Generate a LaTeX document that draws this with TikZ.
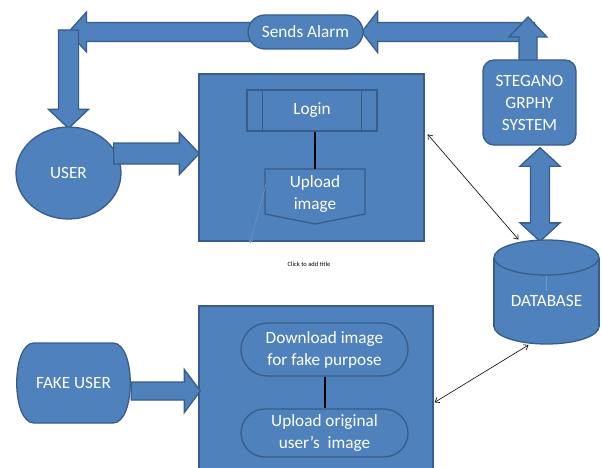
\documentclass[tikz,border=0pt]{standalone}
\usepackage{fontspec}
\setmainfont{Carlito}
\usetikzlibrary{calc,shapes.geometric,arrows.meta}
\pgfdeclarelayer{back}
\pgfsetlayers{back,main}

\definecolor{boxblue}{HTML}{4F81BD}
\definecolor{edgeblue}{HTML}{385D8A}
\definecolor{ghostblue}{HTML}{6E98CC}

\tikzset{
  shapefill/.style={fill=boxblue, draw=edgeblue, line width=1.3pt},
  panel/.style={shapefill, rectangle, inner sep=0pt},
  whitetext/.style={text=white, font=\fontsize{17.2}{22}\selectfont, align=center, inner sep=1pt},
  pill/.style={shapefill, whitetext, rectangle},
  bigarrow/.style={shapefill, line join=miter},
  joinline/.style={black, line width=2pt},
  thinlink/.style={black, line width=0.6pt,
    {Straight Barb[length=4pt,width=6pt]}-{Straight Barb[length=4pt,width=6pt]}},
}

% block arrow: from, to, shaft half width, head half width, head length
\newcommand\blockarrow[5]{%
  \coordinate (ba-h) at ($(#2)!#5!(#1)$);
  \draw[bigarrow] ($(#1)!#3!90:(#2)$) -- ($(ba-h)!#3!-90:(#1)$) -- ($(ba-h)!#4!-90:(#1)$)
    -- (#2) -- ($(ba-h)!#4!90:(#1)$) -- ($(ba-h)!#3!90:(#1)$) -- ($(#1)!#3!-90:(#2)$) -- cycle;}

% block arrow with a head at both ends
\newcommand\dblockarrow[5]{%
  \coordinate (ba-a) at ($(#1)!#5!(#2)$);
  \coordinate (ba-b) at ($(#2)!#5!(#1)$);
  \draw[bigarrow] (#1) -- ($(ba-a)!#4!90:(#2)$) -- ($(ba-a)!#3!90:(#2)$)
    -- ($(ba-b)!#3!-90:(#1)$) -- ($(ba-b)!#4!-90:(#1)$) -- (#2)
    -- ($(ba-b)!#4!90:(#1)$) -- ($(ba-b)!#3!90:(#1)$)
    -- ($(ba-a)!#3!-90:(#2)$) -- ($(ba-a)!#4!-90:(#2)$) -- cycle;}

\begin{document}
\begin{tikzpicture}[x=1pt,y=-1pt]
\useasboundingbox (0,0) rectangle (602,468);
\begin{pgfonlayer}{back}
  \fill[white] (0,0) rectangle (602,468);
\end{pgfonlayer}

% ---- main panels ----
\node[panel, minimum width=225pt, minimum height=167pt] (box1) at (311.5,157.5) {};
\node[panel, minimum width=234pt, minimum height=180pt] (box2) at (316,396) {};

% login (predefined process) and upload (off-page connector)
\node[pill, minimum width=130pt, minimum height=41pt] (login) at (312,110.5) {Login};
\draw[edgeblue, line width=1.3pt]
  ([xshift=16pt]login.north west) -- ([xshift=16pt]login.south west)
  ([xshift=-16pt]login.north east) -- ([xshift=-16pt]login.south east);
\draw[shapefill] (265,169) -- (365,169) -- (365,214) -- (315,224) -- (265,214) -- cycle;
\node[whitetext, minimum width=100pt, minimum height=45pt] (upload) at (315,194) {Upload\\image};
\draw[joinline] (login.south -| upload.north) -- ($(upload.north)+(0,-2.5)$);
\draw[ghostblue, line width=0.5pt, -{Straight Barb[length=3pt,width=4pt]}] (266,184) -- (250,243);

\node[font=\fontsize{6.5}{7}\selectfont, text=black] (title) at (309,264) {Click to add title};

% fake user actions
\node[pill, rounded corners=26.5pt, minimum width=167pt, minimum height=53pt] (down)
  at (324.5,349.5) {Download image\\for fake purpose};
\node[pill, rounded corners=24pt, minimum width=167pt, minimum height=48pt] (orig)
  at (324.5,433) {Upload original\\user’s\ \ image};
\draw[joinline] (down.south) -- (orig.north);

% ---- actors ----
\node[shapefill, ellipse, whitetext, minimum width=105pt, minimum height=92pt] (user)
  at (68.5,173) {USER};
\draw[shapefill] (34,343) -- (113,343) .. controls (136,343) and (136,423) .. (113,423)
  -- (34,423) .. controls (11,423) and (11,343) .. (34,343) -- cycle;
\node[whitetext, minimum width=115pt, minimum height=80pt] (fake) at (73.5,383) {FAKE USER};

% ---- steganography system and database ----
\node[pill, rounded corners=11pt, minimum width=93pt, minimum height=85pt] (steg)
  at (529.5,102.5) {STEGANO\\GRPHY\\SYSTEM};
\node[shapefill, ellipse, minimum width=105pt, minimum height=35pt] (dbbot) at (546.5,326.5) {};
\fill[boxblue] (494,257.5) rectangle (599,326.5);
\draw[edgeblue, line width=1.3pt] (494,257.5) -- (494,326.5) (599,257.5) -- (599,326.5);
\node[shapefill, ellipse, minimum width=105pt, minimum height=35pt] (dbtop) at (546.5,257.5) {};
\draw[ghostblue, line width=0.5pt] (dbtop.south) -- ++(0,15);
\node[whitetext] (db) at (546.5,301) {DATABASE};

\node[pill, rounded corners=17pt, minimum width=115pt, minimum height=34pt] (alarm)
  at (305.5,32) {Sends Alarm};

% ---- block arrows ----
\coordinate (userE) at ($(user.east)+(-8,-19.5)$);
\coordinate (box1W) at ($(box1.west)+(1,-4)$);
\blockarrow{userE}{box1W}{10.5pt}{21pt}{20pt}

\coordinate (fakeE) at ($(fake.east)+(0,8)$);
\coordinate (box2W) at ($(box2.west)+(2,-5)$);
\blockarrow{fakeE}{box2W}{9pt}{21.5pt}{16pt}

\begin{pgfonlayer}{back}
  \coordinate (bendL) at (user.north |- alarm.west);
  \coordinate (alarmL) at ($(alarm.west)+(4,0)$);
  \blockarrow{alarmL}{bendL}{9.5pt}{20pt}{18pt}
  \coordinate (downS) at ($(bendL)+(0,-2)$);
  \coordinate (userN) at ($(user.north)+(0,2)$);
  \blockarrow{downS}{userN}{10pt}{20pt}{19pt}

  \coordinate (bendR) at (steg.north |- alarm.east);
  \coordinate (rightS) at ($(bendR)+(5,0)$);
  \coordinate (alarmR) at ($(alarm.east)+(-2,0)$);
  \blockarrow{rightS}{alarmR}{9.5pt}{20.5pt}{16pt}
  \coordinate (stegN) at ($(steg.north)+(-1.5,4)$);
  \coordinate (upT) at ($(bendR)+(-1.5,-15)$);
  \blockarrow{stegN}{upT}{9pt}{19pt}{20pt}

  \coordinate (stegS) at ($(steg.south)+(10.5,2)$);
  \coordinate (dbN) at ($(dbtop.north)+(-6.5,2)$);
  \dblockarrow{stegS}{dbN}{9.5pt}{20pt}{18.5pt}
\end{pgfonlayer}

% ---- data links ----
\draw[thinlink] ($(box1.north east)+(3,61)$) -- ($(dbtop.center)+(-28,-18)$);
\draw[thinlink] ($(dbbot.center)+(-18,18.5)$) -- ($(box2.north east)+(1,97)$);
\end{tikzpicture}
\end{document}
